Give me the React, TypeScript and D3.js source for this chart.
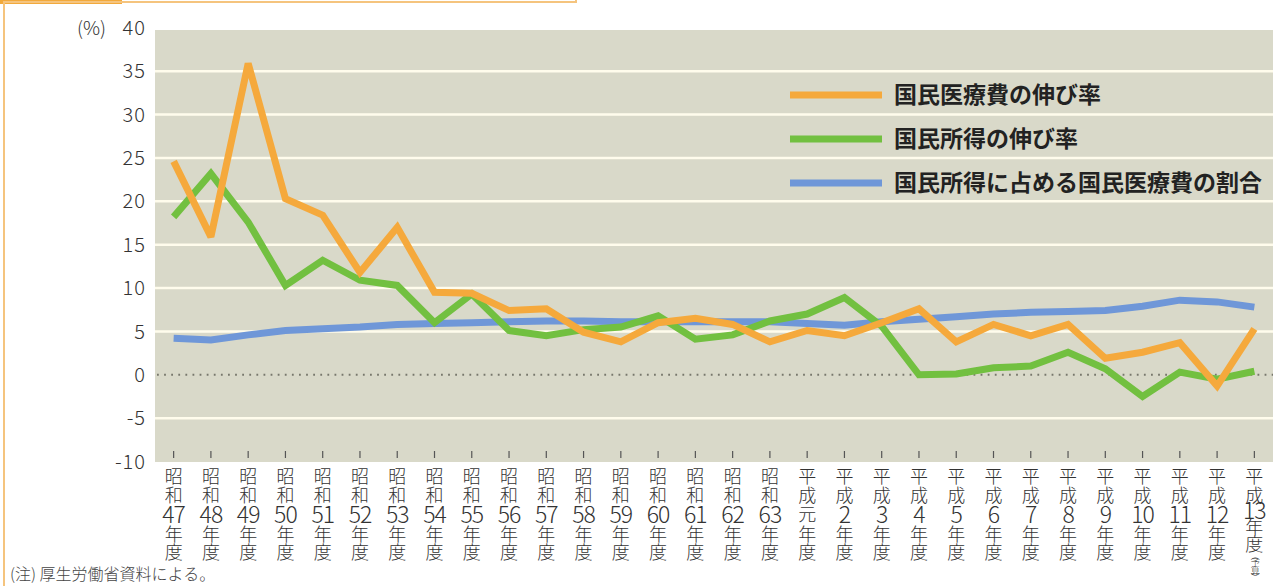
import React, { useRef, useEffect } from "react";
import * as d3 from "d3";

// fiscal years (x axis)
const categories = [
  "昭和47年度", "昭和48年度", "昭和49年度", "昭和50年度", "昭和51年度", "昭和52年度",
  "昭和53年度", "昭和54年度", "昭和55年度", "昭和56年度", "昭和57年度", "昭和58年度",
  "昭和59年度", "昭和60年度", "昭和61年度", "昭和62年度", "昭和63年度", "平成元年度",
  "平成2年度", "平成3年度", "平成4年度", "平成5年度", "平成6年度", "平成7年度",
  "平成8年度", "平成9年度", "平成10年度", "平成11年度", "平成12年度", "平成13年度(予算)",
];

// 国民医療費の伸び率
const medicalGrowth = [
  24.6, 15.9, 35.9, 20.3, 18.4, 11.8, 17.0, 9.5, 9.4, 7.4, 7.6, 4.9, 3.8, 6.0, 6.5,
  5.8, 3.8, 5.1, 4.5, 6.0, 7.6, 3.8, 5.8, 4.5, 5.8, 1.9, 2.6, 3.7, -1.3, 5.3,
];
// 国民所得の伸び率
const incomeGrowth = [
  18.2, 23.2, 17.6, 10.3, 13.2, 10.9, 10.3, 6.0, 9.3, 5.1, 4.5, 5.2, 5.5, 6.8, 4.1,
  4.6, 6.2, 7.0, 8.9, 5.6, 0.0, 0.1, 0.8, 1.0, 2.6, 0.7, -2.5, 0.3, -0.5, 0.4,
];
// 国民所得に占める国民医療費の割合
const medicalRatio = [
  4.2, 4.0, 4.6, 5.1, 5.3, 5.5, 5.8, 5.9, 6.0, 6.1, 6.2, 6.2, 6.1, 6.1, 6.1,
  6.1, 6.1, 5.9, 5.7, 6.1, 6.4, 6.7, 7.0, 7.2, 7.3, 7.4, 7.9, 8.6, 8.4, 7.8,
];

const seriesNames = ["国民医療費の伸び率", "国民所得の伸び率", "国民所得に占める国民医療費の割合"];
const yTicks = [40, 35, 30, 25, 20, 15, 10, 5, 0, -5, -10];
const note = "(注) 厚生労働省資料による。";

const FONT = "'Noto Sans CJK JP', 'Noto Sans', sans-serif";

const App = () => {
  const svgRef = useRef<SVGSVGElement>(null);

  useEffect(() => {
    const w = 1277;
    const h = 586;
    const plot = { left: 155, right: 1273, top: 30, bottom: 462 };

    const svg = d3
      .select(svgRef.current)
      .attr("width", w)
      .attr("height", h)
      .style("background", "#fff");

    svg.selectAll("*").remove();

    // orange frame from the page layout
    svg.append("rect").attr("x", 0).attr("y", 0).attr("width", 122).attr("height", 4).attr("fill", "#f2a93b");
    svg.append("path")
      .attr("d", "M4,586 V2 H576 V0")
      .attr("fill", "none")
      .attr("stroke", "#f5c47e")
      .attr("stroke-width", 2);

    const xScale = d3
      .scalePoint<string>()
      .domain(categories)
      .range([plot.left, plot.right])
      .padding(0.5);

    const yScale = d3.scaleLinear().domain([-10, 40]).range([461.5, 27.8]);

    // background
    svg.append("rect")
      .attr("x", plot.left)
      .attr("y", plot.top)
      .attr("width", plot.right - plot.left)
      .attr("height", plot.bottom - plot.top)
      .attr("fill", "#d9d9c9");

    // grid
    svg.append("g")
      .selectAll("line")
      .data(yTicks.filter((t) => t !== 40 && t !== -10 && t !== 0))
      .enter()
      .append("line")
      .attr("x1", plot.left)
      .attr("x2", plot.right)
      .attr("y1", (d) => yScale(d))
      .attr("y2", (d) => yScale(d))
      .attr("stroke", "#fffcec")
      .attr("stroke-width", 2.5);

    svg.append("line")
      .attr("x1", plot.left + 2)
      .attr("x2", plot.right)
      .attr("y1", yScale(0))
      .attr("y2", yScale(0))
      .attr("stroke", "#77776c")
      .attr("stroke-width", 1.8)
      .attr("stroke-dasharray", "1.8 5.3");

    // y axis labels
    svg.append("g")
      .selectAll("text")
      .data(yTicks)
      .enter()
      .append("text")
      .attr("x", 146)
      .attr("y", (d) => yScale(d))
      .attr("dy", "0.36em")
      .attr("text-anchor", "end")
      .attr("font-family", FONT)
      .attr("font-size", 20)
      .attr("font-weight", 300)
      .attr("letter-spacing", 1)
      .attr("fill", "#333")
      .text((d) => String(d));

    svg.append("text")
      .attr("x", 106)
      .attr("y", yScale(40))
      .attr("dy", "0.36em")
      .attr("text-anchor", "end")
      .attr("font-family", FONT)
      .attr("font-size", 19)
      .attr("font-weight", 300)
      .attr("fill", "#333")
      .text("(%)");

    // x ticks
    svg.append("g")
      .selectAll("line")
      .data(categories)
      .enter()
      .append("line")
      .attr("x1", (d) => xScale(d)!)
      .attr("x2", (d) => xScale(d)!)
      .attr("y1", 451)
      .attr("y2", 458)
      .attr("stroke", "#555")
      .attr("stroke-width", 1.2);

    // x labels, stacked vertically one character group per row
    const labels = svg.append("g").attr("font-family", FONT).attr("fill", "#333").attr("text-anchor", "middle");
    categories.forEach((c) => {
      const m = c.match(/^(.)(.)(.+?)年度(.*)$/)!;
      const x = xScale(c)!;
      const last = m[4] !== "";
      const rows = [
        { t: m[1], y: 477, fs: 18 },
        { t: m[2], y: 496, fs: 18 },
        { t: m[3], y: last ? 511 : 515, fs: m[3] === "元" ? 18 : 23 },
        { t: "年", y: last ? 528 : 535, fs: 18 },
        { t: "度", y: last ? 545 : 553, fs: 18 },
      ];
      if (last) {
        // (予算) written vertically in small type
        ["︵", "予", "算", "︶"].forEach((t, k) => rows.push({ t, y: 556 + k * 7.2, fs: 9 }));
      }
      const text = labels.append("text").attr("font-weight", 300);
      rows.forEach((r) => {
        text.append("tspan")
          .attr("x", r.fs < 10 ? x + 1 : x)
          .attr("y", r.y)
          .attr("dy", "0.36em")
          .attr("font-size", r.fs)
          .attr("letter-spacing", /\d/.test(r.t) ? -1 : 0)
          .text(r.t);
      });
    });

    // lines
    const series = [
      { name: seriesNames[2], values: medicalRatio, color: "#6f97d8" },
      { name: seriesNames[1], values: incomeGrowth, color: "#72c040" },
      { name: seriesNames[0], values: medicalGrowth, color: "#f5a93c" },
    ];
    const line = d3
      .line<number>()
      .x((_, i) => xScale(categories[i])!)
      .y((d) => yScale(d));

    svg.append("g")
      .selectAll("path")
      .data(series)
      .enter()
      .append("path")
      .attr("d", (d) => line(d.values))
      .attr("fill", "none")
      .attr("stroke", (d) => d.color)
      .attr("stroke-width", 7)
      .attr("stroke-linejoin", "miter")
      .attr("stroke-miterlimit", 3);

    // legend
    const legend = svg.append("g");
    const legendItems = [series[2], series[1], series[0]];
    legendItems.forEach((s, i) => {
      const y = 95 + i * 44;
      legend.append("line")
        .attr("x1", 790)
        .attr("x2", 882)
        .attr("y1", y)
        .attr("y2", y)
        .attr("stroke", s.color)
        .attr("stroke-width", 7);
      legend.append("text")
        .attr("x", 894)
        .attr("y", y)
        .attr("dy", "0.36em")
        .attr("font-family", FONT)
        .attr("font-size", 23)
        .attr("font-weight", 700)
        .attr("fill", "#222")
        .text(s.name);
    });

    // note
    svg.append("text")
      .attr("x", 10)
      .attr("y", 580)
      .attr("font-family", FONT)
      .attr("font-size", 16)
      .attr("font-weight", 300)
      .attr("fill", "#444")
      .text(note);
  }, []);

  return (
    <svg ref={svgRef} style={{ position: "absolute", left: 0, top: 0, display: "block" }}></svg>
  );
};

export default App;
